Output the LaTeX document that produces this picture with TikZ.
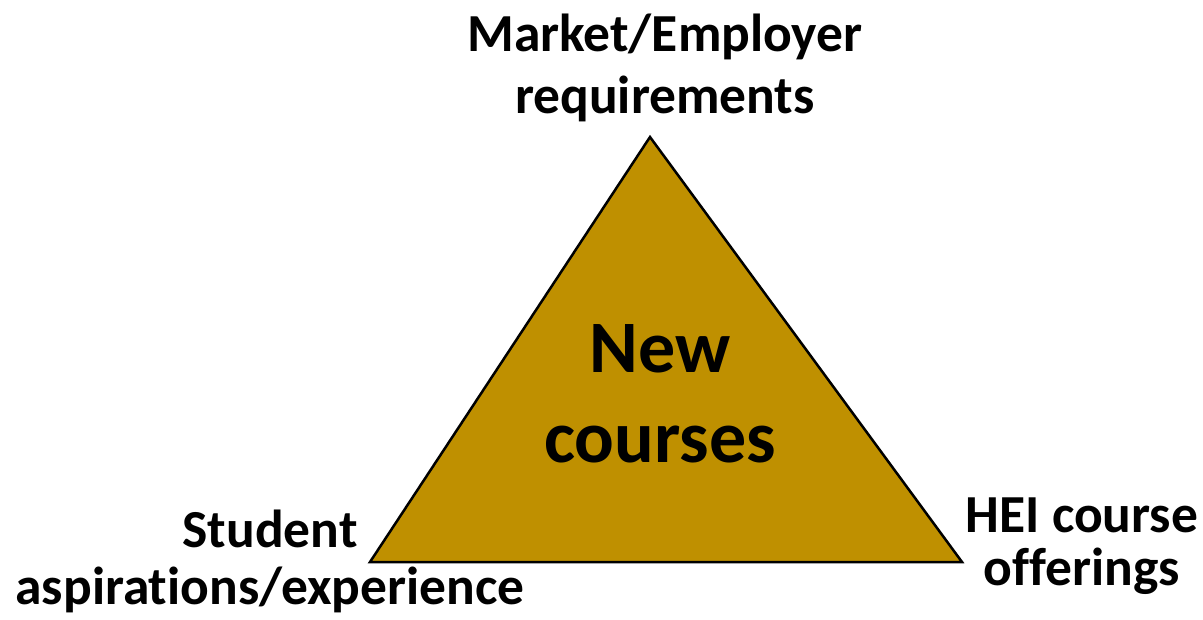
\documentclass[tikz,border=0pt]{standalone}
\usepackage{fontspec}
\setmainfont{Carlito}[Ligatures={NoCommon}]
\begin{document}
\begin{tikzpicture}[x=1pt,y=-1pt,
  lbl/.style={font=\bfseries\fontsize{53.5}{#1}\selectfont, align=center, inner sep=0pt, anchor=base},
  big/.style={font=\bfseries\fontsize{74}{90}\selectfont, align=center, inner sep=0pt, anchor=base},
  tri/.style={fill=gold, draw=black, line width=2.5pt, line join=miter}]
\definecolor{gold}{HTML}{BF9000}
\useasboundingbox (0,0) rectangle (1203,619);
\coordinate (top) at (650,137);
\coordinate (bl) at (370,562);
\coordinate (br) at (962,562);
\draw[tri] (top) -- (bl) -- (br) -- cycle;
\node[big] (center) at (660,462) {New\\courses};
\node[lbl=62] (market) at (665,113) {Market/Employer\\requirements};
\node[lbl=57] (student) at (270,604) {Student\\aspirations/experience};
\node[lbl=53] (hei) at (1082,585) {HEI course\\offerings};
\end{tikzpicture}
\end{document}
